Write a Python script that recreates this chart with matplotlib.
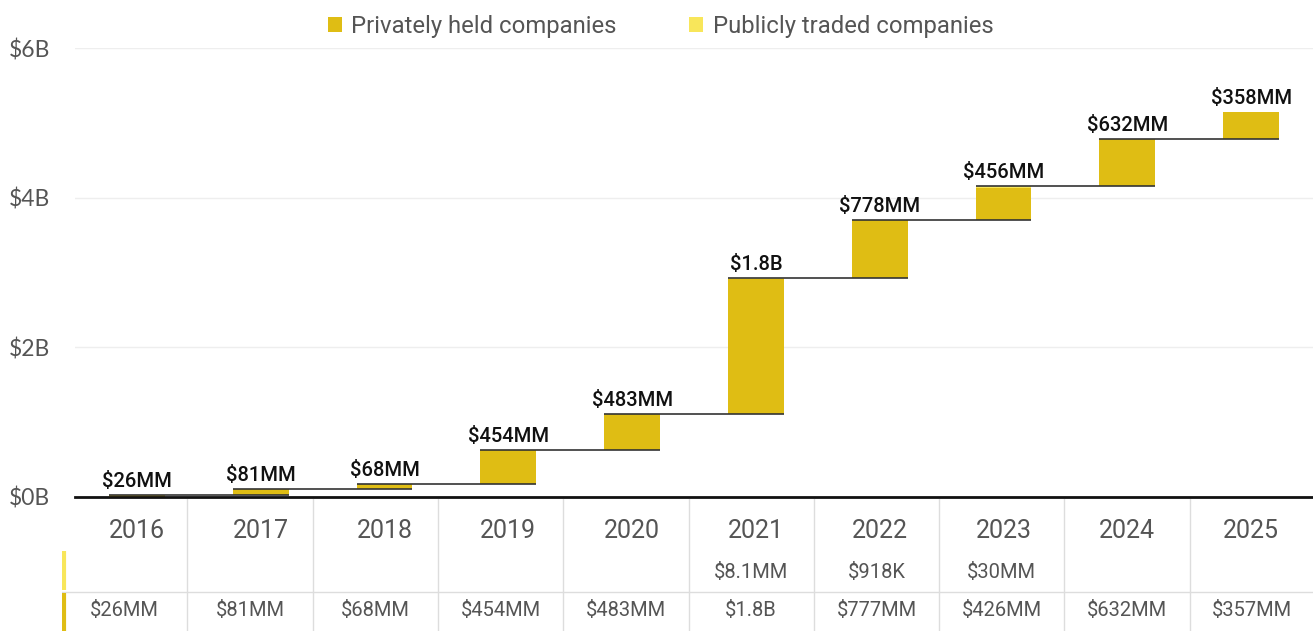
import matplotlib
matplotlib.use('Agg')
import matplotlib.pyplot as plt
from matplotlib.patches import Patch
import numpy as np

years = ['2016', '2017', '2018', '2019', '2020', '2021', '2022', '2023', '2024', '2025']
private_mm = [26, 81, 68, 454, 483, 1800, 777, 426, 632, 357]
public_mm = [0, 0, 0, 0, 0, 8.1, 0.918, 30, 0, 0]
bar_labels = ['$26MM', '$81MM', '$68MM', '$454MM', '$483MM', '$1.8B', '$778MM', '$456MM', '$632MM', '$358MM']
public_labels = ['', '', '', '', '', '$8.1MM', '$918K', '$30MM', '', '']
private_labels = ['$26MM', '$81MM', '$68MM', '$454MM', '$483MM', '$1.8B', '$777MM', '$426MM', '$632MM', '$357MM']
yticks_b = [0, 2, 4, 6]
ytick_labels = ['$0B', '$2B', '$4B', '$6B']

PRIV = '#DFBD14'
PUB = '#F8E65A'
GRAY = '#555555'
FONT = 'Roboto'

W, H = 1313, 631
fig = plt.figure(figsize=(W / 100, H / 100), dpi=100)

ax = fig.add_axes([75 / W, (H - 497) / H, (W - 75) / W, (497 - 48) / H])
x = np.arange(len(years))
priv = np.array(private_mm) / 1000.0
pub = np.array(public_mm) / 1000.0
totals = priv + pub
cum_end = np.cumsum(totals)
cum_start = cum_end - totals
bw = 0.45
ax.bar(x, priv, bottom=cum_start, width=bw, color=PRIV, zorder=3)
ax.bar(x, pub, bottom=cum_start + priv, width=bw, color=PUB, zorder=3)
for i in range(len(years) - 1):
    ax.hlines(cum_end[i], x[i] - bw / 2, x[i + 1] + bw / 2, color='#333333', lw=1.2, zorder=4)
for i in range(len(years)):
    ax.annotate(bar_labels[i], (x[i], cum_end[i]), xytext=(0, 3), textcoords='offset points',
                ha='center', va='bottom', fontsize=14.5, fontweight='medium', color='#111111',
                family=FONT, zorder=5)

ax.set_xlim(-0.5, len(years) - 0.5)
ax.set_ylim(0, 6)
ax.set_yticks(yticks_b)
ax.set_yticklabels(ytick_labels, family='Lato', fontsize=16.5, color=GRAY)
ax.tick_params(axis='y', length=0, pad=18)
ax.set_xticks(x)
ax.set_xticklabels(years, family=FONT, fontsize=18, color=GRAY)
ax.tick_params(axis='x', length=0, pad=16)
ax.grid(axis='y', color='#EEEEEE', lw=1, zorder=0)
for s in ['top', 'right', 'left']:
    ax.spines[s].set_visible(False)
ax.spines['bottom'].set_color('#111111')
ax.spines['bottom'].set_linewidth(2)
ax.spines['bottom'].set_zorder(6)

# table below the chart
colw = 125.3
tab = fig.add_axes([62 / W, 0, (10 * colw) / W, 134 / H], zorder=-1)
tab.set_xlim(0, 10)
tab.set_ylim(134, 0)
tab.axis('off')
for k in range(1, 10):
    tab.plot([k, k], [2, 134], color='#DDDDDD', lw=1)
tab.plot([0, 10], [95, 95], color='#DDDDDD', lw=1)
tab.plot([0.012, 0.012], [54, 93], color=PUB, lw=3, solid_capstyle='butt')
tab.plot([0.012, 0.012], [96, 134], color=PRIV, lw=3, solid_capstyle='butt')
for i in range(len(years)):
    tab.text(i + 0.5, 75, public_labels[i], ha='center', va='center', fontsize=14.5,
             color=GRAY, family=FONT)
    tab.text(i + 0.5, 114, private_labels[i], ha='center', va='center', fontsize=14.5,
             color=GRAY, family=FONT)

handles = [Patch(facecolor=PRIV, edgecolor='none', label='Privately held companies'),
           Patch(facecolor=PUB, edgecolor='none', label='Publicly traded companies')]
leg = fig.legend(handles=handles, loc='upper center', bbox_to_anchor=(0.503, 1.01), ncol=2,
                 frameon=False, handlelength=0.6, handleheight=0.6, handletextpad=0.4,
                 columnspacing=3.0, prop={'family': FONT, 'size': 17.2})
for t in leg.get_texts():
    t.set_color(GRAY)

fig.savefig('out.png', dpi=100)
